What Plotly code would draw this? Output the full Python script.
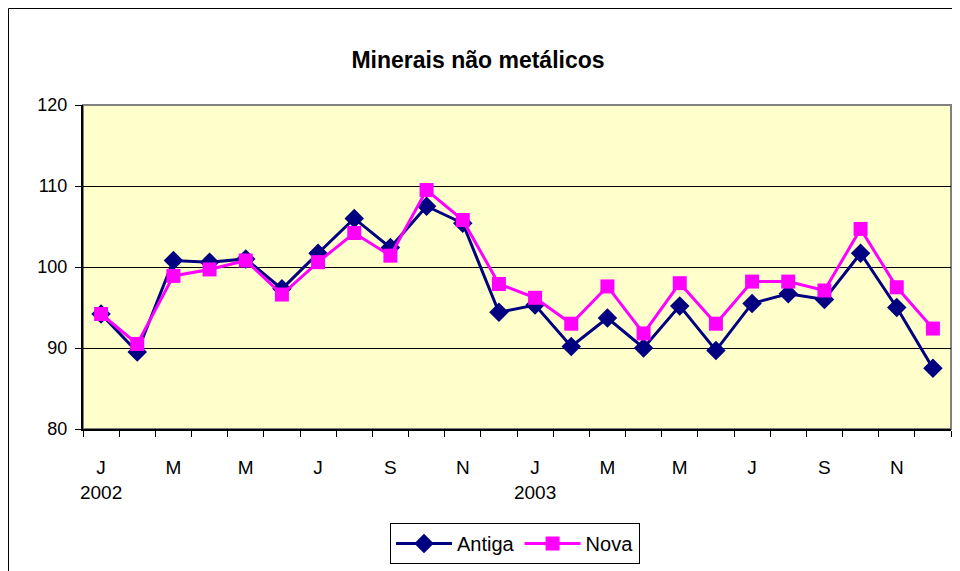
import plotly.graph_objects as go

months = ["J", "F", "M", "A", "M", "J", "J", "A", "S", "O", "N", "D"] * 2
years = ["2002", "2003"]
antiga = [94.2, 89.5, 100.8, 100.6, 101.0, 97.3, 101.7, 106.0, 102.4, 107.5, 105.4, 94.4,
          95.3, 90.2, 93.7, 90.0, 95.2, 89.7, 95.5, 96.7, 96.0, 101.7, 95.0, 87.5]
nova = [94.2, 90.5, 98.9, 99.7, 100.8, 96.6, 100.6, 104.2, 101.4, 109.5, 105.8, 97.9,
        96.2, 93.0, 97.6, 91.8, 98.0, 93.0, 98.2, 98.2, 97.1, 104.7, 97.5, 92.4]
yticks = [80, 90, 100, 110, 120]

x = list(range(len(months)))

# labels every other month, with year under January
label_pos = x[::2]
label_txt = []
for i in label_pos:
    t = months[i]
    if i % 12 == 0:
        t = t + "<br>" + years[i // 12]
    label_txt.append(t)

fig = go.Figure()
fig.add_trace(go.Scatter(x=x, y=antiga, name="Antiga", mode="lines+markers",
                         line=dict(color="#000080", width=3),
                         marker=dict(symbol="diamond", size=15, color="#000080")))
fig.add_trace(go.Scatter(x=x, y=nova, name="Nova", mode="lines+markers",
                         line=dict(color="#FF00FF", width=3),
                         marker=dict(symbol="square", size=14, color="#FF00FF")))
# invisible trace to activate label axis
fig.add_trace(go.Scatter(x=x, y=nova, xaxis="x2", mode="none", showlegend=False, hoverinfo="skip"))

# page body has an 8px offset in the browser
L, R, T, B = 75, 17, 97, 150
W, H = 960, 571
pw, ph = W - L - R, H - T - B

fig.update_layout(
    width=W, height=H,
    margin=dict(l=L, r=R, t=T, b=B, pad=0),
    paper_bgcolor="white",
    plot_bgcolor="#FFFFCC",
    font=dict(family="Liberation Sans, Arial, sans-serif", size=18, color="black"),
    title=dict(text="<b>Minerais não metálicos</b>", x=470 / W, xanchor="center",
               y=1 - 52 / H, yanchor="middle", font=dict(size=23)),
    showlegend=True,
    legend=dict(orientation="h", x=(507 - L) / pw, xanchor="center",
                y=-(515 - (H - B)) / ph, yanchor="top",
                bordercolor="black", borderwidth=1, bgcolor="white",
                font=dict(size=20), itemwidth=56, tracegroupgap=0),
    xaxis=dict(range=[-0.5, 23.5], tickvals=[i - 0.5 for i in range(25)],
               showticklabels=False, ticks="outside", ticklen=6, tickcolor="black",
               showgrid=False, zeroline=False, showline=True, linecolor="black", linewidth=2),
    xaxis2=dict(range=[-0.5, 23.5], overlaying="x", side="bottom", anchor="y",
                tickvals=label_pos, ticktext=label_txt, ticks="", showgrid=False,
                zeroline=False, showline=False, ticklabelstandoff=25,
                tickfont=dict(size=19)),
    yaxis=dict(range=[80, 120], tickvals=yticks, ticks="outside", ticklen=6,
               tickcolor="black", showgrid=True, gridcolor="black", gridwidth=1,
               zeroline=False, showline=True, linecolor="black", linewidth=2,
               ticklabelstandoff=4),
    shapes=[
        dict(type="rect", xref="paper", yref="paper", x0=0, x1=1, y0=0, y1=1,
             line=dict(color="#808080", width=2), layer="below"),
        dict(type="line", xref="paper", yref="paper", x0=-(L - 0.5) / pw, x1=-(L - 0.5) / pw,
             y0=-(B) / ph, y1=1 + (T - 0.5) / ph, line=dict(color="black", width=1)),
        dict(type="line", xref="paper", yref="paper", x0=-(L - 0.5) / pw, x1=(W - L) / pw,
             y0=1 + (T - 0.5) / ph, y1=1 + (T - 0.5) / ph, line=dict(color="black", width=1)),
    ],
)

fig.write_html("out.html")
